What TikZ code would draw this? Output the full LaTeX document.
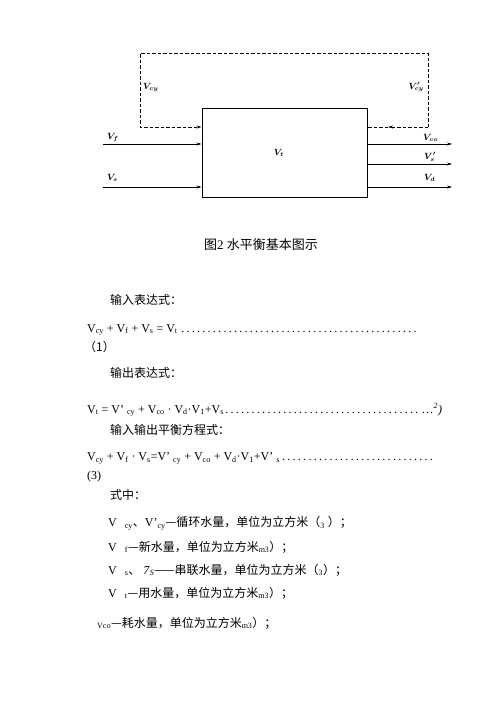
\documentclass[tikz,border=0pt]{standalone}
\usepackage{amsmath}
\usepackage{fontspec}
\setmainfont{Liberation Serif}
\newfontfamily\cjk{Noto Sans CJK SC}
\usetikzlibrary{arrows.meta}
\begin{document}
\begin{tikzpicture}[x=1pt,y=-1pt,>={Stealth[length=5pt,width=3pt]},
  flow/.style={draw,line width=0.6pt,->},
  loop/.style={draw,line width=0.9pt,dash pattern=on 3.5pt off 2pt},
  lbl/.style={font=\small,inner sep=0pt},
  txt/.style={anchor=west,inner sep=0pt,font=\fontsize{12}{14}\selectfont}]
\useasboundingbox (0,0) rectangle (500,707);
% the balance box
\node[draw, line width=1pt, minimum width=165pt, minimum height=89pt, inner sep=0pt] (box) at (284.5,152.5) {};
\node[lbl] (vt) at (279,153) {$\boldsymbol{V_{t}}$};
\coordinate (fin) at (103,144);
\coordinate (sin) at (103,187);
\coordinate (coout) at (452,144);
\coordinate (sout) at (452,164);
\coordinate (dout) at (452,187);
\coordinate (cyl) at (140,127);
\coordinate (cyr) at (428,127);
\coordinate (tl) at (140,53);
\coordinate (tr) at (428,53);
\coordinate (rmid) at (388,127);
% inflow and outflow
\path[flow] (fin) -- (fin -| box.west);
\path[flow] (sin) -- (sin -| box.west);
\path[flow] (coout -| box.east) -- (coout);
\path[flow] (sout -| box.east) -- (sout);
\path[flow] (dout -| box.east) -- (dout);
% recycled water
\path[loop,->] (cyr) -- (tr) -- (tl) -- (cyl) -- (cyl -| box.west);
\path[loop,->] (cyr) -- (rmid);
\path[loop] (rmid) -- (cyr -| box.east);
\node[lbl,anchor=west] (vcy) at (143,87) {$\boldsymbol{V_{cy}}$};
\node[lbl,anchor=east] (vcy2) at (424,87) {$\boldsymbol{V'_{cy}}$};
\node[lbl,anchor=west] (vf) at (107,137) {$\boldsymbol{V_{f}}$};
\node[lbl,anchor=west] (vs) at (107,178) {$\boldsymbol{V_{s}}$};
\node[lbl,anchor=west] (vco) at (423,138) {$\boldsymbol{V_{co}}$};
\node[lbl,anchor=west] (vs2) at (424,157) {$\boldsymbol{V'_{s}}$};
\node[lbl,anchor=west] (vd) at (424,178) {$\boldsymbol{V_{d}}$};
% caption and text
\node[inner sep=0pt,font=\fontsize{13}{15}\selectfont] (cap) at (261,245) {{\cjk 图}2 {\cjk 水平衡基本图示}};
\node[txt] (in) at (110,300) {\cjk 输入表达式：};
\node[txt] (eq1) at (87,330) {\makebox[333pt][l]{V\textsubscript{cy} + V\textsubscript{f} + V\textsubscript{s} = V\textsubscript{t}\dotfill}};
\node[txt] (n1) at (84,347) {\cjk （1）};
\node[txt] (out) at (110,373) {\cjk 输出表达式：};
\node[txt] (eq2) at (87,410) {\makebox[355pt][l]{V\textsubscript{t} = V’ \textsubscript{cy} + V\textsubscript{co} · V\textsubscript{d}·V\textsubscript{1}+V\textsubscript{s}\dotfill\,…\textsuperscript{\textit{2}}\textit{)}}};
\node[txt] (bal) at (110,430) {\cjk 输入输出平衡方程式：};
\node[txt] (eq3) at (87,458) {\makebox[348pt][l]{V\textsubscript{cy} + V\textsubscript{f} · V\textsubscript{s}=V’ \textsubscript{cy} + V\textsubscript{co} + V\textsubscript{d}·V\textsubscript{1}+V’ \textsubscript{s}\dotfill}};
\node[txt] (n3) at (87,477) {(3)};
\node[txt] (where) at (110,495) {\cjk 式中：};
\node[txt] (d1) at (108,523) {V\hspace{8pt}\textsubscript{cy}{\cjk 、}V’\textsubscript{cy}{\cjk —循环水量，单位为立方米（}\textsubscript{3} {\cjk ）；}};
\node[txt] (d2) at (108,547) {V\hspace{8pt}\textsubscript{f}{\cjk —新水量，单位为立方米}\textsubscript{m3}{\cjk ）；}};
\node[txt] (d3) at (108,570) {V\hspace{8pt}\textsubscript{s}{\cjk 、} \textit{7}\textsubscript{\textit{S}}{\cjk ——串联水量，单位为立方米（}\textsubscript{3}{\cjk ）；}};
\node[txt] (d4) at (108,593) {V\hspace{8pt}\textsubscript{t}{\cjk —用水量，单位为立方米}\textsubscript{m3}{\cjk ）；}};
\node[txt] (d5) at (97,623) {\textsubscript{Vco}{\cjk —耗水量，单位为立方米}\textsubscript{m3}{\cjk ）；}};
\end{tikzpicture}
\end{document}
